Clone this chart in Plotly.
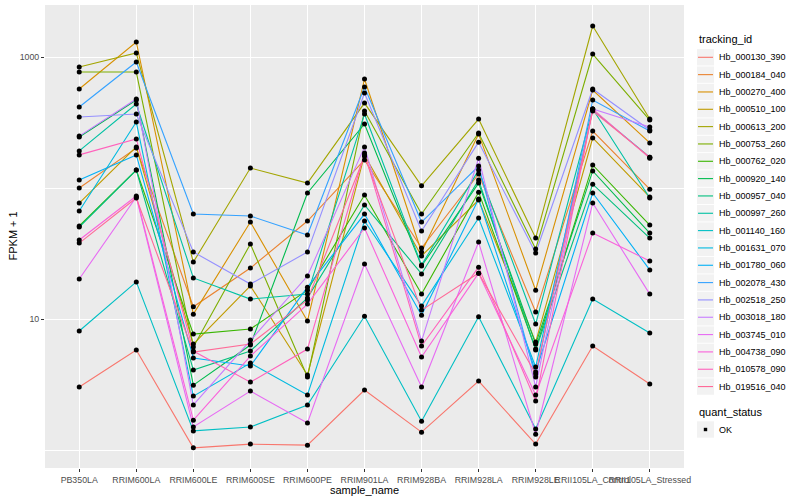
import plotly.graph_objects as go

samples = ["PB350LA", "RRIM600LA", "RRIM600LE", "RRIM600SE", "RRIM600PE", "RRIM901LA",
           "RRIM928BA", "RRIM928LA", "RRIM928LE", "RRII105LA_Control", "RRII105LA_Stressed"]

tracking_ids = ["Hb_000130_390", "Hb_000184_040", "Hb_000270_400", "Hb_000510_100", "Hb_000613_200",
                "Hb_000753_260", "Hb_000762_020", "Hb_000920_140", "Hb_000957_040", "Hb_000997_260",
                "Hb_001140_160", "Hb_001631_070", "Hb_001780_060", "Hb_002078_430", "Hb_002518_250",
                "Hb_003018_180", "Hb_003745_010", "Hb_004738_090", "Hb_010578_090", "Hb_019516_040"]

colors = ["#F8766D", "#EA8331", "#D89000", "#C09B00", "#A3A500", "#7CAE00", "#39B600", "#00BB4E",
          "#00BF7D", "#00C1A3", "#00BFC4", "#00BAE0", "#00B0F6", "#35A2FF", "#9590FF", "#C77CFF",
          "#E76BF3", "#FA62DB", "#FF62BC", "#FF6A98"]

quant_status = ["OK"]

# FPKM + 1 per sample (order of `samples`)
hb_000130_390 = [3.03, 5.80, 1.04, 1.11, 1.09, 2.87, 1.37, 3.36, 1.11, 6.22, 3.19]
hb_000184_040 = [100, 202, 12.4, 24.5, 56.0, 164, 34.8, 128, 11.3, 272, 98]
hb_000270_400 = [570, 1302, 10.9, 55.0, 9.65, 679, 32.5, 258, 16.6, 560, 221]
hb_000510_100 = [76.8, 206, 6.44, 17.9, 3.74, 179, 30.3, 81.0, 6.67, 241, 85.4]
hb_000613_200 = [839, 1073, 27.2, 142, 109, 445, 104, 336, 41.5, 1725, 336]
hb_000753_260 = [768, 768, 6.11, 37.4, 3.61, 387, 63.3, 263, 34.2, 1054, 330]
hb_000762_020 = [51.3, 137, 7.68, 8.39, 16.6, 88.4, 15.5, 93, 5.90, 150, 52.2]
hb_000920_140 = [245, 470, 3.13, 6.33, 91.6, 308, 25.4, 109, 6.44, 135, 45.3]
hb_000957_040 = [50.4, 137, 4.08, 5.70, 14.5, 74.2, 22.1, 115, 5.80, 107, 41.5]
hb_000997_260 = [192, 438, 20.6, 14.2, 15.5, 367, 25.8, 137, 9.16, 401, 83.9]
hb_001140_160 = [8.10, 19.2, 1.40, 1.50, 2.21, 10.5, 1.66, 10.4, 1.45, 14.2, 7.82]
hb_001631_070 = [66.7, 319, 2.58, 4.61, 2.63, 56.0, 12.6, 59.0, 4.30, 394, 172]
hb_001780_060 = [115, 179, 5.04, 4.38, 17.5, 63.3, 10.7, 82.4, 3.94, 91.6, 23.7]
hb_002078_430 = [415, 916, 63.3, 61.1, 43.8, 590, 55.0, 147, 3.61, 470, 272]
hb_002518_250 = [348, 367, 32.5, 18.5, 32.5, 531, 47.0, 224, 31.9, 570, 277]
hb_003018_180 = [249, 478, 2.21, 6.91, 21.3, 206, 6.79, 169, 3.03, 401, 292]
hb_003745_010 = [20.2, 85.4, 1.50, 2.82, 1.61, 26.3, 3.03, 38.7, 1.32, 76.8, 15.5]
hb_004738_090 = [40.1, 86.9, 1.69, 5.22, 13.0, 49.5, 5.13, 22.4, 2.63, 45.3, 27.7]
hb_010578_090 = [179, 237, 5.70, 3.30, 5.90, 185, 6.22, 24.9, 2.37, 401, 169]
hb_019516_040 = [38.0, 83.9, 5.60, 6.44, 14.0, 175, 11.7, 22.4, 3.80, 387, 172]

series_values = [hb_000130_390, hb_000184_040, hb_000270_400, hb_000510_100, hb_000613_200,
                 hb_000753_260, hb_000762_020, hb_000920_140, hb_000957_040, hb_000997_260,
                 hb_001140_160, hb_001631_070, hb_001780_060, hb_002078_430, hb_002518_250,
                 hb_003018_180, hb_003745_010, hb_004738_090, hb_010578_090, hb_019516_040]

FONT = "Liberation Sans"
W, H = 800, 500
ML, MR, MT, MB = 45, 116, 5, 32
PW, PH = W - ML - MR, H - MT - MB


def px(xpix):
    return (xpix - ML) / PW


def py(ypix):
    return (H - MB - ypix) / PH


fig = go.Figure()
for tid, col, vals in zip(tracking_ids, colors, series_values):
    fig.add_trace(go.Scatter(x=samples, y=vals, mode="lines", name=tid,
                             line=dict(color=col, width=1.1), showlegend=False))

all_x, all_y = [], []
for vals in series_values:
    all_x += samples
    all_y += vals
fig.add_trace(go.Scatter(x=all_x, y=all_y, mode="markers", name=quant_status[0],
                         marker=dict(color="black", size=5, symbol="circle"),
                         showlegend=False))

# ---- ggplot-style legends drawn in the right margin ----
shapes, annotations = [], []
KEY_L, KEY_R = 697, 714
ROW0, ROWH = 57.3, 17.33
annotations.append(dict(text="tracking_id", x=px(697), y=py(39), xref="paper", yref="paper",
                        xanchor="left", yanchor="middle", showarrow=False,
                        font=dict(size=11, family=FONT, color="black")))
for i, (tid, col) in enumerate(zip(tracking_ids, colors)):
    cy = ROW0 + i * ROWH
    shapes.append(dict(type="rect", xref="paper", yref="paper", layer="above",
                       x0=px(KEY_L), x1=px(KEY_R), y0=py(cy - 8.2), y1=py(cy + 8.2),
                       fillcolor="#F2F2F2", line=dict(width=0)))
    shapes.append(dict(type="line", xref="paper", yref="paper", layer="above",
                       x0=px(KEY_L + 1), x1=px(KEY_R - 1), y0=py(cy), y1=py(cy),
                       line=dict(color=col, width=1.1)))
    annotations.append(dict(text=tid, x=px(717), y=py(cy), xref="paper", yref="paper",
                            xanchor="left", yanchor="middle", showarrow=False,
                            font=dict(size=9, family=FONT, color="black")))

annotations.append(dict(text="quant_status", x=px(697), y=py(412), xref="paper", yref="paper",
                        xanchor="left", yanchor="middle", showarrow=False,
                        font=dict(size=11, family=FONT, color="black")))
cy = 429.5
shapes.append(dict(type="rect", xref="paper", yref="paper", layer="above",
                   x0=px(KEY_L), x1=px(KEY_R), y0=py(cy - 8.2), y1=py(cy + 8.2),
                   fillcolor="#F2F2F2", line=dict(width=0)))
shapes.append(dict(type="rect", xref="paper", yref="paper", layer="above",
                   x0=px(703.8), x1=px(707.2), y0=py(cy - 1.7), y1=py(cy + 1.7),
                   fillcolor="black", line=dict(width=0)))
annotations.append(dict(text=quant_status[0], x=px(717), y=py(cy), xref="paper", yref="paper",
                        xanchor="left", yanchor="middle", showarrow=False,
                        font=dict(size=9, family=FONT, color="black")))

# axis titles
annotations.append(dict(text="sample_name", x=px((ML + W - MR) / 2), y=py(490), xref="paper",
                        yref="paper", xanchor="center", yanchor="middle", showarrow=False,
                        font=dict(size=11, family=FONT, color="black")))
annotations.append(dict(text="FPKM + 1", x=px(12), y=py((MT + H - MB) / 2), xref="paper",
                        yref="paper", xanchor="center", yanchor="middle", showarrow=False,
                        textangle=-90, font=dict(size=11, family=FONT, color="black")))

fig.update_layout(
    width=W, height=H,
    margin=dict(l=ML, r=MR, t=MT, b=MB, autoexpand=False),
    paper_bgcolor="white", plot_bgcolor="#EBEBEB",
    font=dict(family=FONT, color="black", size=11),
    showlegend=False,
    hovermode=False,
    shapes=shapes, annotations=annotations,
    xaxis=dict(
        type="category", categoryorder="array", categoryarray=samples,
        range=[-0.6, 10.6], showgrid=True, gridcolor="white", gridwidth=1.1,
        ticks="outside", ticklen=3, tickcolor="#333333", tickangle=0,
        tickfont=dict(size=8.8, color="#4D4D4D", family=FONT),
        automargin=False, zeroline=False, showline=False,
    ),
    yaxis=dict(
        type="log", range=[-0.137, 3.397],
        tickvals=[10, 1000], ticktext=["10", "1000"],
        showgrid=True, gridcolor="white", gridwidth=1.1,
        ticks="outside", ticklen=3, tickcolor="#333333",
        tickfont=dict(size=8.8, color="#4D4D4D", family=FONT),
        minor=dict(tickvals=[1, 100], showgrid=True, gridcolor="white", gridwidth=0.55, ticks=""),
        automargin=False, zeroline=False, showline=False,
    ),
)

fig.write_html("out.html", config={"displayModeBar": False},
               post_script="document.body.style.margin='0';")
